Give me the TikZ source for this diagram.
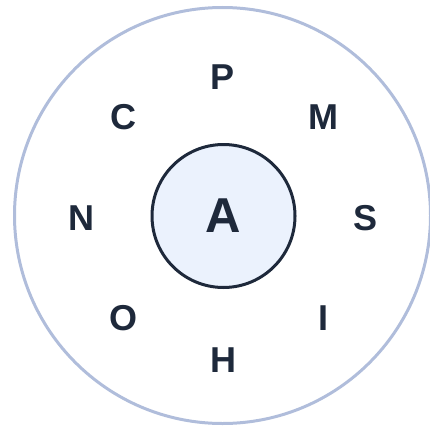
\documentclass[tikz,border=0pt]{standalone}
\usepackage{fontspec}
\setmainfont{Liberation Sans}
\definecolor{ringc}{HTML}{B0BDDB}
\definecolor{inkc}{HTML}{1E293B}
\definecolor{fillc}{HTML}{EBF2FD}
\begin{document}
\begin{tikzpicture}[x=1pt,y=-1pt,
  lett/.style={inner sep=0pt,text=inkc,font=\fontsize{36}{36}\selectfont\bfseries},
  core/.style={circle,draw=inkc,line width=3pt,fill=fillc,minimum size=143pt,inner sep=0pt,text=inkc,font=\fontsize{49}{49}\selectfont\bfseries}]
\useasboundingbox (0,0) rectangle (430,425);
\node[circle,draw=ringc,line width=3pt,minimum size=416pt,inner sep=0pt] (ring) at (222.5,215.5) {};
\node[core] (a) at (223.5,216) {A};
\node[lett] (p) at (222.7,76.7) {P};
\node[lett] (m) at (323,117) {M};
\node[lett] (s) at (365,218) {S};
\node[lett] (i) at (323,318) {I};
\node[lett] (h) at (223,360) {H};
\node[lett] (o) at (123,318) {O};
\node[lett] (n) at (81,218) {N};
\node[lett] (c) at (123,117) {C};
\end{tikzpicture}
\end{document}
